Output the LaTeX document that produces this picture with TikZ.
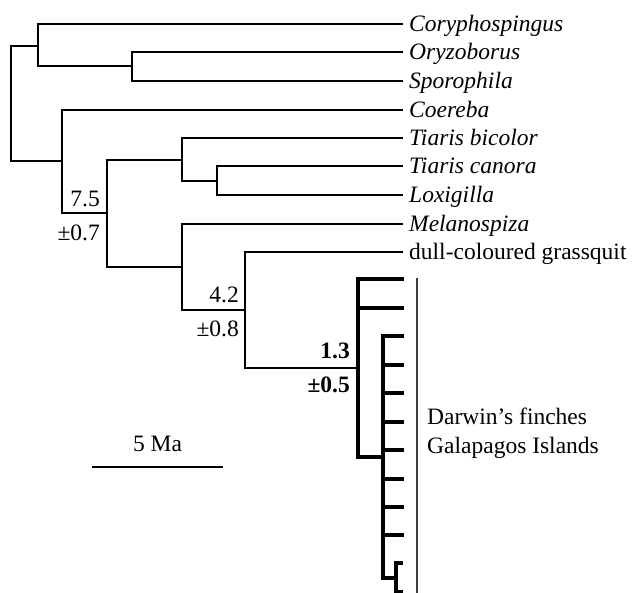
\documentclass[tikz,border=0pt]{standalone}
\usepackage{fontspec}
\setmainfont{Liberation Serif}
\usepackage{tikz}
\usetikzlibrary{calc}
\tikzset{every node/.style={font=\fontsize{23.5}{28}\selectfont}}

\begin{document}
\begin{tikzpicture}[x=1pt, y=-1pt,
    branch/.style={line width=1.2pt},
    finchbranch/.style={line width=4.6pt, line join=miter},
    taxon/.style={anchor=base west, inner sep=0pt, font=\fontsize{23.5}{28}\selectfont\itshape},
    uptaxon/.style={anchor=base west, inner sep=0pt},
    agelabel/.style={anchor=base east, inner sep=0pt}]
        \useasboundingbox (0,0) rectangle (633,593);
        % internal nodes
        \coordinate (root) at (11,103.5);
        \coordinate (nA) at (38,46);
        \coordinate (nAB) at (132,66);
        \coordinate (nB) at (62,161);
        \coordinate (nC) at (107,213);
        \coordinate (nD) at (182,160);
        \coordinate (nD2) at (217,181);
        \coordinate (nE) at (182,267);
        \coordinate (nF) at (245,310);
        \coordinate (nG) at (358,368);
        \coordinate (nH) at (383,457);
        \coordinate (nI) at (396,578);
        % tips
        \coordinate (tCory) at (403,24);
        \coordinate (tOry) at (403,52);
        \coordinate (tSpor) at (403,81);
        \coordinate (tCoer) at (403,110);
        \coordinate (tTbic) at (403,138);
        \coordinate (tTcan) at (403,166);
        \coordinate (tLox) at (403,195);
        \coordinate (tMel) at (403,224);
        \coordinate (tDull) at (403,252);
        \node[taxon] (cory) at (409,32) {Coryphospingus};
        \node[taxon] (ory) at (409,60) {Oryzoborus};
        \node[taxon] (spor) at (409,89) {Sporophila};
        \node[taxon] (coer) at (409,118) {Coereba};
        \node[taxon] (tbic) at (409,146) {Tiaris bicolor};
        \node[taxon] (tcan) at (409,174) {Tiaris canora};
        \node[taxon] (lox) at (409,203) {Loxigilla};
        \node[taxon] (mel) at (409,232) {Melanospiza};
        \node[uptaxon] (dull) at (409,260) {dull-coloured grassquit};
        % thin branches
        \draw[branch] (root) |- (nA);
        \draw[branch] (root) |- (nB);
        \draw[branch] (nA) |- (tCory);
        \draw[branch] (nA) |- (nAB);
        \draw[branch] (nAB) |- (tOry);
        \draw[branch] (nAB) |- (tSpor);
        \draw[branch] (nB) |- (tCoer);
        \draw[branch] (nB) |- (nC);
        \draw[branch] (nC) |- (nD);
        \draw[branch] (nC) |- (nE);
        \draw[branch] (nD) |- (tTbic);
        \draw[branch] (nD) |- (nD2);
        \draw[branch] (nD2) |- (tTcan);
        \draw[branch] (nD2) |- (tLox);
        \draw[branch] (nE) |- (tMel);
        \draw[branch] (nE) |- (nF);
        \draw[branch] (nF) |- (tDull);
        \draw[branch] (nF) |- (nG);
        % Darwin's finches
        \coordinate (g1) at (404,279);
        \coordinate (g2) at (404,308);
        \draw[finchbranch] (nG) |- (g1);
        \draw[finchbranch] (nG) |- (g2);
        \draw[finchbranch] (nG) |- (nH);
        \foreach \y [count=\i] in {336,365,393,422,450,479,507,535} {
          \coordinate (h\i) at (404,\y);
          \draw[finchbranch] (nH) |- (h\i);
        }
        \draw[finchbranch] (nH) |- (nI);
        \coordinate (i1) at (403,563);
        \coordinate (i2) at (403,592);
        \draw[finchbranch] (nI) |- (i1);
        \draw[finchbranch] (nI) |- (i2);
        % ages
        \node[agelabel] (age1) at (100,207) {7.5};
        \node[agelabel] (err1) at (100,241) {±0.7};
        \node[agelabel] (age2) at (239,303) {4.2};
        \node[agelabel] (err2) at (239,337) {±0.8};
        \node[agelabel, font=\fontsize{23.5}{28}\selectfont\bfseries] (age3) at (350,359) {1.3};
        \node[agelabel, font=\fontsize{23.5}{28}\selectfont\bfseries] (err3) at (350,393) {±0.5};
        % bracket
        \coordinate (brTop) at (417,278);
        \coordinate (brBot) at (417,593);
        \draw[line width=1.1pt, black!75] (brTop) -- (brBot);
        \node[uptaxon] (darwin) at (427,425) {Darwin’s finches};
        \node[uptaxon] (galap) at (427,454) {Galapagos Islands};
        % scale
        \coordinate (sbL) at (92,467);
        \coordinate (sbR) at (223,467);
        \draw[branch] (sbL) -- (sbR);
        \node[anchor=base, inner sep=0pt] (sbtext) at (157.5,452) {5 Ma};
      \end{tikzpicture}
\end{document}
